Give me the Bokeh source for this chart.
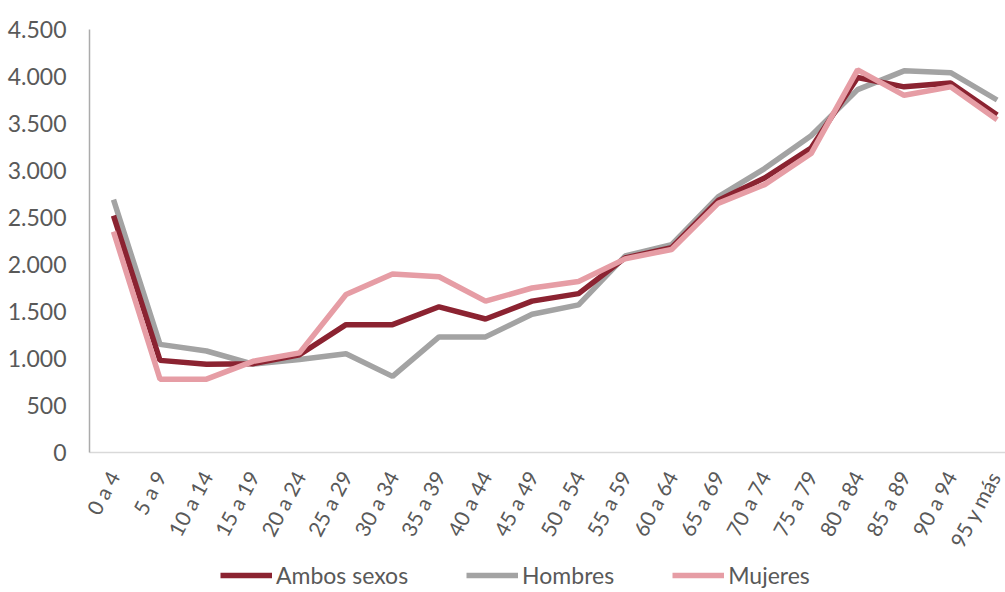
from bokeh.plotting import figure
from bokeh.layouts import column
from bokeh.models import Range1d, FixedTicker, Legend, LegendItem
from bokeh.embed import file_html
from bokeh.resources import INLINE

categories = ["0 a 4", "5 a 9", "10 a 14", "15 a 19", "20 a 24", "25 a 29", "30 a 34",
              "35 a 39", "40 a 44", "45 a 49", "50 a 54", "55 a 59", "60 a 64", "65 a 69",
              "70 a 74", "75 a 79", "80 a 84", "85 a 89", "90 a 94", "95 y más"]
ambos = [2520, 980, 940, 945, 1040, 1360, 1360, 1550, 1420, 1610, 1690, 2070, 2180,
         2680, 2920, 3240, 3990, 3890, 3930, 3590]
hombres = [2690, 1150, 1080, 940, 990, 1050, 810, 1230, 1230, 1470, 1570, 2090, 2210,
           2720, 3020, 3370, 3860, 4060, 4040, 3750]
mujeres = [2350, 780, 780, 970, 1060, 1680, 1900, 1870, 1610, 1750, 1820, 2060, 2160,
           2650, 2850, 3180, 4070, 3800, 3890, 3540]
y_ticks = [0, 500, 1000, 1500, 2000, 2500, 3000, 3500, 4000, 4500]
y_tick_labels = ["0", "500", "1.000", "1.500", "2.000", "2.500", "3.000", "3.500", "4.000", "4.500"]
series_names = ["Ambos sexos", "Hombres", "Mujeres"]

x = list(range(len(categories)))
FONT = "Lato"
TXT = "#595959"
colors = {"Ambos sexos": "#8B2331", "Hombres": "#A3A3A3", "Mujeres": "#E69DA5"}
series = {"Ambos sexos": ambos, "Hombres": hombres, "Mujeres": mujeres}

p = figure(width=1005, height=560, output_backend="svg", toolbar_location=None,
           x_range=Range1d(-0.516, 19.18), y_range=Range1d(0, 4500),
           min_border_left=89, min_border_right=0, min_border_top=29, min_border_bottom=106)
p.outline_line_color = None
p.xgrid.visible = False
p.ygrid.visible = False

for name in ["Hombres", "Ambos sexos", "Mujeres"]:
    p.line(x, series[name], line_color=colors[name], line_width=5.5)

# y axis
p.yaxis.ticker = FixedTicker(ticks=y_ticks)
p.yaxis.major_label_overrides = {t: l for t, l in zip(y_ticks, y_tick_labels)}
p.yaxis.major_label_text_font = FONT
p.yaxis.major_label_text_font_size = "23px"
p.yaxis.major_label_text_color = TXT
p.yaxis.major_tick_line_color = None
p.yaxis.minor_tick_line_color = None
p.yaxis.axis_line_color = "#ABABAB"
p.yaxis.axis_line_width = 1.5
p.yaxis.major_label_standoff = 17

# x axis
p.xaxis.ticker = FixedTicker(ticks=x)
p.xaxis.major_label_overrides = {i: c for i, c in zip(x, categories)}
p.xaxis.major_label_orientation = 1.08
p.xaxis.major_label_text_font = FONT
p.xaxis.major_label_text_font_size = "21px"
p.xaxis.major_label_text_color = TXT
p.xaxis.major_tick_line_color = None
p.xaxis.minor_tick_line_color = None
p.xaxis.axis_line_color = "#D9D9D9"
p.xaxis.axis_line_width = 1.5
p.xaxis.major_label_standoff = 14

# legend in its own strip below the chart (frame aligned with the chart frame)
lg = figure(width=1005, height=32, output_backend="svg", toolbar_location=None,
            x_range=Range1d(0, 1), y_range=Range1d(0, 1),
            min_border_left=89, min_border_right=0, min_border_top=0, min_border_bottom=0)
lg.outline_line_color = None
lg.axis.visible = False
lg.grid.visible = False
items = []
for name in series_names:
    # hidden sample (outside the strip's range) just to give the legend its line style
    r = lg.line(x[:2], series[name][:2], line_color=colors[name], line_width=5.5)
    items.append(LegendItem(label=name, renderers=[r]))
legend = Legend(items=items, orientation="horizontal", location=(131, 3),
                label_text_font=FONT, label_text_font_size="23px", label_text_color=TXT,
                glyph_width=52, glyph_height=24, label_height=24, label_standoff=4,
                spacing=58, padding=0, margin=0, border_line_alpha=0,
                background_fill_alpha=0)
lg.add_layout(legend, "center")

layout = column(p, lg, spacing=0)
open("out.html", "w").write(file_html(layout, INLINE))
